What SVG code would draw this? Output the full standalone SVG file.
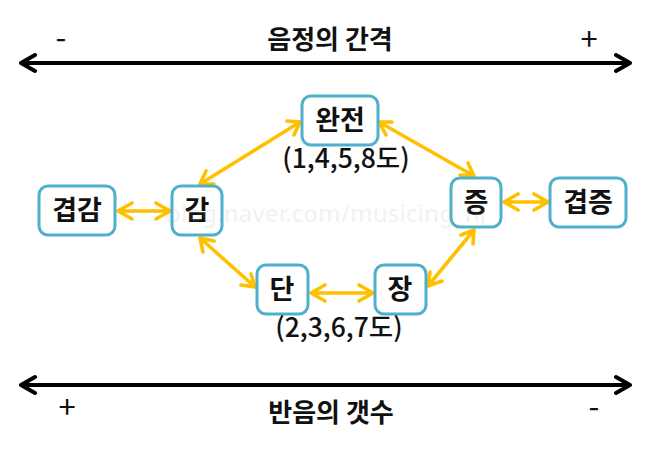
<svg xmlns="http://www.w3.org/2000/svg" width="650" height="452" viewBox="0 0 650 452">
<style>
text{font-family:"Noto Sans CJK KR","Noto Sans",sans-serif;fill:#111;text-anchor:middle}
.n{fill:#fff;stroke:#4fb0cb;stroke-width:3}
.l{font-size:27px;font-weight:700}
.t{font-size:26px;font-weight:700}
.s{font-size:26.5px;font-weight:500}
.p{font-size:31px;font-weight:400}
.b path{fill:none;stroke:#000;stroke-width:4;stroke-linecap:round;stroke-linejoin:round}
.c path{fill:none;stroke:#ffc000;stroke-width:3.6;stroke-linecap:round;stroke-linejoin:round}
.w{font-size:24px;fill:#999;fill-opacity:.13;font-family:"Noto Sans",sans-serif;font-weight:500}
</style>
<rect width="650" height="452" fill="#fff"/>
<g id="axes" class="b">
<path d="M21 63H630M35 55L21 63L35 71M616 55L630 63L616 71"/>
<path d="M21 385H630M35 377L21 385L35 393M616 377L630 385L616 393"/>
</g>
<g id="connectors" class="c">
<path d="M118 211H170M132 203L118 211L132 219M156 203L170 211L156 219"/>
<path d="M200 184L300 122M206 171L200 184L214 184M287 121L300 122L294 135"/>
<path d="M379 122L474 176M392 122L379 122L386 135M468 163L474 176L460 175"/>
<path d="M504 202H548M518 194L504 202L518 210M534 194L548 202L534 210"/>
<path d="M200 238L255 287M203 252L200 238L214 241M241 285L255 287L251 274"/>
<path d="M311 293H373M325 285L311 293L325 301M359 285L373 293L359 301"/>
<path d="M428 286L474 230M442 281L428 286L430 272M473 244L474 230L461 235"/>
</g>
<g id="n-gyeopgam"><rect class="n" x="39" y="186" width="76" height="49" rx="9"/><text class="l" x="77" y="220">겹감</text></g>
<g id="n-gam"><rect class="n" x="172" y="186" width="50" height="49" rx="9"/><text class="l" x="197" y="220">감</text></g>
<g id="n-wanjeon"><rect class="n" x="302" y="96" width="76" height="49" rx="9"/><text class="l" x="340" y="130">완전</text></g>
<g id="n-jeung"><rect class="n" x="451" y="178" width="50" height="49" rx="9"/><text class="l" x="476" y="212">증</text></g>
<g id="n-gyeopjeung"><rect class="n" x="550" y="178" width="76" height="49" rx="9"/><text class="l" x="588" y="212">겹증</text></g>
<g id="n-dan"><rect class="n" x="257" y="265" width="51" height="49" rx="9"/><text class="l" x="282" y="299">단</text></g>
<g id="n-jang"><rect class="n" x="375" y="265" width="51" height="49" rx="9"/><text class="l" x="400" y="299">장</text></g>
<g id="labels">
<text class="s" x="346" y="168">(1,4,5,8도)</text>
<text class="s" x="339" y="337">(2,3,6,7도)</text>
<text class="t" x="330" y="49">음정의 간격</text>
<text class="t" x="331" y="422">반음의 갯수</text>
<text class="p" x="61" y="49">-</text>
<text class="p" x="589" y="50">+</text>
<text class="p" x="67" y="418">+</text>
<text class="p" x="594" y="418">-</text>
</g>
<text class="w" x="326" y="222">blog.naver.com/musicing_hj</text>
</svg>
